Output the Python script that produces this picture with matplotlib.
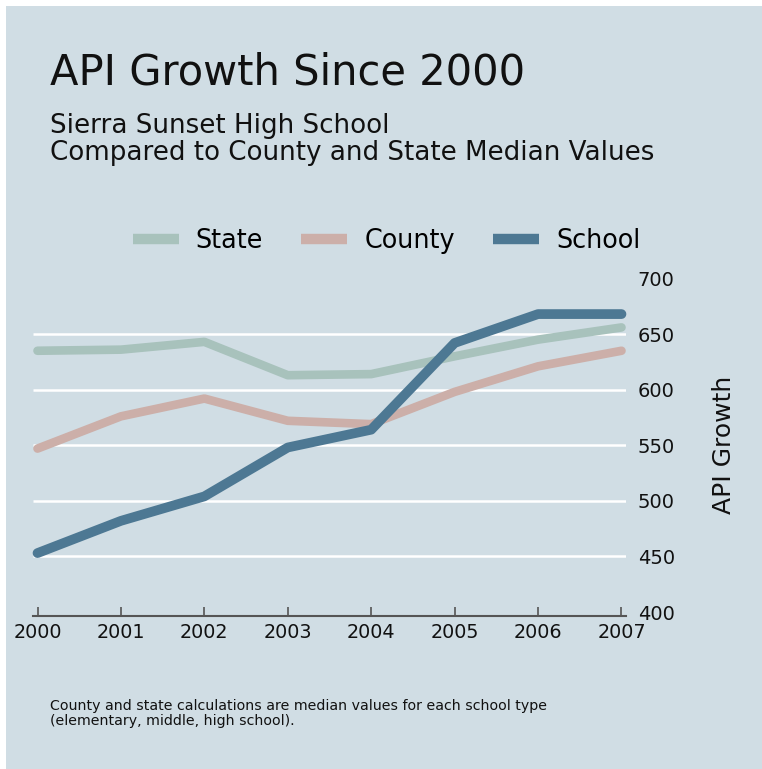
import matplotlib
matplotlib.use("Agg")
import matplotlib.pyplot as plt
from matplotlib.lines import Line2D
from matplotlib.patches import Rectangle

years = [2000, 2001, 2002, 2003, 2004, 2005, 2006, 2007]
state = [635, 636, 643, 613, 614, 630, 645, 656]
county = [547, 576, 592, 572, 569, 598, 621, 635]
school = [453, 482, 504, 548, 564, 642, 668, 668]
series_names = ["State", "County", "School"]
grid_values = [450, 500, 550, 600, 650]
ytick_values = [400, 450, 500, 550, 600, 650, 700]

title = "API Growth Since 2000"
subtitle1 = "Sierra Sunset High School"
subtitle2 = "Compared to County and State Median Values"
note1 = "County and state calculations are median values for each school type"
note2 = "(elementary, middle, high school)."
ylabel = "API Growth"

BG = "#d0dde4"
C_STATE = "#a8c2bc"
C_COUNTY = "#ccafa9"
C_SCHOOL = "#4d7893"

W, H = 762, 769
plt.rcParams["font.family"] = ["DejaVu Sans"]
fig = plt.figure(figsize=(W / 100, H / 100), dpi=100, facecolor="white")
fig.patches.append(Rectangle((6 / W, 0), 1 - 6 / W, 1 - 6 / H, transform=fig.transFigure,
                             facecolor=BG, edgecolor="none", zorder=-10))

def fx(px):
    return px / W

def fy(py):
    return 1 - py / H

left, right = 33, 626
top, bottom = 278.5, 612
ax = fig.add_axes([fx(left), fy(bottom), fx(right) - fx(left), (bottom - top) / H])
ax.set_facecolor("none")

for s in ["top", "left", "right"]:
    ax.spines[s].set_visible(False)
ax.spines["bottom"].set_position(("outward", 3))
ax.spines["bottom"].set_color("#555555")
ax.spines["bottom"].set_linewidth(1.5)

ax.hlines(grid_values, 1999.946, 2007.054, colors="white", linewidth=1.8, zorder=1)

ax.plot(years, state, color=C_STATE, linewidth=6.2, solid_capstyle="round",
        solid_joinstyle="round", clip_on=False, zorder=3)
ax.plot(years, county, color=C_COUNTY, linewidth=6.2, solid_capstyle="round",
        solid_joinstyle="round", clip_on=False, zorder=4)
ax.plot(years, school, color=C_SCHOOL, linewidth=7.0, solid_capstyle="round",
        solid_joinstyle="round", clip_on=False, zorder=5)

ax.set_xlim(1999.946, 2007.054)
ax.set_ylim(400, 700)
ax.set_xticks(years)
ax.set_xticklabels([str(y) for y in years])
ax.set_yticks(ytick_values)
ax.set_yticklabels([str(v) for v in ytick_values])
ax.yaxis.tick_right()
ax.yaxis.set_label_position("right")
ax.tick_params(axis="y", length=0, pad=8.5, labelsize=14, labelcolor="#111111")
ax.tick_params(axis="x", direction="in", length=6.5, width=1.2, color="#555555",
               pad=5, labelsize=13.8, labelcolor="#111111")

ax.set_ylabel(ylabel, fontsize=18, color="#111111")
ax.yaxis.set_label_coords((711.7 - left) / (right - left), 0.5)

fig.text(fx(50), fy(84.3), title, fontsize=30, va="baseline", ha="left", color="#111111")
fig.text(fx(50), fy(132.7), subtitle1, fontsize=18.8, va="baseline", ha="left", color="#111111")
fig.text(fx(50), fy(160), subtitle2, fontsize=18.8, va="baseline", ha="left", color="#111111")
fig.text(fx(50), fy(710), note1, fontsize=10.2, va="baseline", ha="left", color="#111111")
fig.text(fx(50), fy(725), note2, fontsize=10.2, va="baseline", ha="left", color="#111111")

handles = [Line2D([], [], color=c, linewidth=7.5, solid_capstyle="butt")
           for c in (C_STATE, C_COUNTY, C_SCHOOL)]
fig.legend(handles, series_names, loc="center", bbox_to_anchor=(fx(386.5), fy(241)),
           ncol=3, frameon=False, fontsize=18.4, handlelength=1.8, handletextpad=0.66,
           columnspacing=1.5, borderaxespad=0, borderpad=0)

fig.savefig("out.png", dpi=100, facecolor="white")
